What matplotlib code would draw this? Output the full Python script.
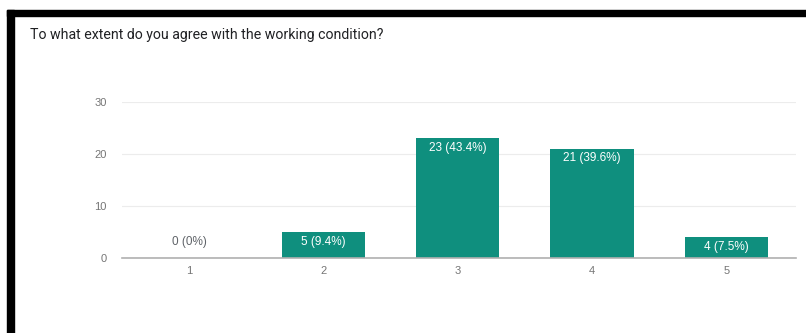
import matplotlib
matplotlib.use("agg")
import matplotlib.pyplot as plt
from matplotlib.patches import Rectangle

# Survey answers
categories = [1, 2, 3, 4, 5]
counts = [0, 5, 23, 21, 4]
labels = ["0 (0%)", "5 (9.4%)", "23 (43.4%)", "21 (39.6%)", "4 (7.5%)"]
y_ticks = [0, 10, 20, 30]

title = "To what extent do you agree with the working condition?"
bar_color = "#0f8f7e"

plt.rcParams['font.family'] = ['Liberation Sans', 'DejaVu Sans']

W, H = 806, 333
fig = plt.figure(figsize=(W / 100, H / 100), dpi=100)

# black frame on the top and left edges of the screenshot
fig.patches.append(Rectangle((7 / W, 0), 7 / W, 1 - 10 / H, color="black",
                             transform=fig.transFigure, figure=fig))
fig.patches.append(Rectangle((7 / W, 1 - 16 / H), 1, 6 / H, color="black",
                             transform=fig.transFigure, figure=fig))

fig.text(30 / W, 1 - 35 / H, title, fontsize=10.2, color="#202124",
         va="center", ha="left", family=["Roboto", "DejaVu Sans"])

ax = fig.add_axes([122 / W, 75 / H, 674 / W, 156 / H])
ax.bar(categories, counts, width=0.62, color=bar_color, zorder=3)

for x, c, lab in zip(categories, counts, labels):
    if c == 0:
        ax.text(x, 3, lab, ha="center", va="center", fontsize=8.5, color="#5f6368")
    else:
        ax.text(x, c - 0.7, lab, ha="center", va="top", fontsize=8.5,
                color="white", zorder=4)

ax.set_xlim(0.5, 5.52)
ax.set_ylim(0, 30)
ax.set_yticks(y_ticks)
ax.set_xticks(categories)
ax.grid(axis="y", color="#ececec", linewidth=0.8, zorder=0)
for s in ["top", "right", "left"]:
    ax.spines[s].set_visible(False)
ax.spines["bottom"].set_color("#b0b0b0")
ax.spines["bottom"].set_linewidth(1.2)
ax.spines["bottom"].set_zorder(5)
ax.tick_params(axis="both", length=0, labelsize=8, labelcolor="#757575")
ax.tick_params(axis="y", pad=11)
ax.tick_params(axis="x", pad=6)

plt.savefig("out.png", dpi=100)
